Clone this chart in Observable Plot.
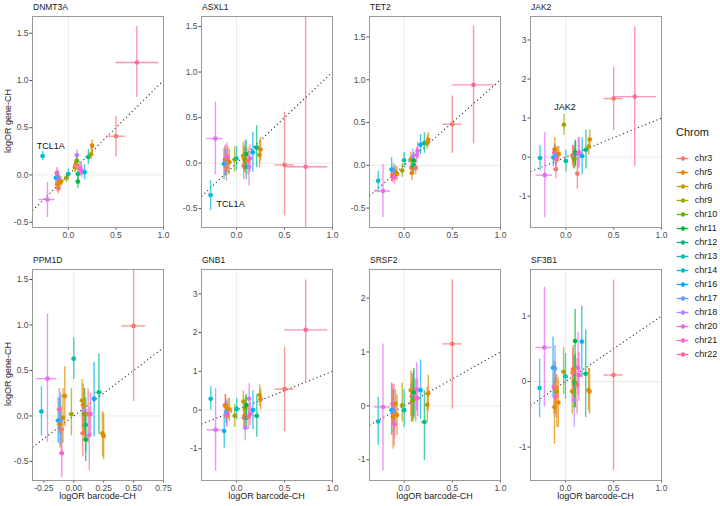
<!DOCTYPE html>
<html><head><meta charset="utf-8">
<script src="https://cdn.jsdelivr.net/npm/d3@7"></script>
<script src="https://cdn.jsdelivr.net/npm/@observablehq/plot@0.6"></script>
<style>
body{margin:0;background:#fff;font-family:"Liberation Sans",Arial,sans-serif}
#root{position:relative;width:720px;height:506px;overflow:hidden}
.ttl{position:absolute;font-size:8.5px;color:#1a1a1a;white-space:nowrap}
.axt{position:absolute;font-size:9px;color:#1a1a1a;white-space:nowrap;text-align:center}
</style>
</head><body><div id="root"></div>
<script>
// ---- data ----
const chroms = ["chr3","chr5","chr6","chr9","chr10","chr11","chr12","chr13","chr14","chr16","chr17","chr18","chr20","chr21","chr22"];
const chromColors = ["#F8766D","#E58700","#C99800","#A3A500","#6BB100","#00BA38","#00BF7D","#00C0AF","#00BCD8","#00B0F6","#619CFF","#B983FF","#E76BF3","#FD61D1","#FF67A4"];
// barcode-CH (x) estimates, shared by all genes
const barcodeChrom = ["chr14","chr20","chr16","chr22","chr5","chr3","chr21","chr6","chr5","chr9","chr13","chr6","chr5","chr3","chr18","chr10","chr11","chr12","chr3","chr20","chr21","chr16","chr12","chr6","chr5","chr3","chr22","chr17"];
const barcodeX   = [-0.27,-0.22,-0.13,-0.12,-0.115,-0.105,-0.10,-0.09,-0.075,-0.02,0.00,0.07,0.08,0.075,0.09,0.09,0.10,0.10,0.12,0.13,0.14,0.17,0.21,0.24,0.25,0.50,0.72,-0.11];
const barcodeXlo = [-0.29,-0.31,-0.15,-0.14,-0.14,-0.13,-0.12,-0.11,-0.10,-0.04,-0.02,0.05,0.06,0.055,0.07,0.07,0.08,0.08,0.10,0.11,0.12,0.15,0.18,0.22,0.23,0.40,0.50,-0.13];
const barcodeXhi = [-0.25,-0.14,-0.11,-0.10,-0.09,-0.08,-0.08,-0.07,-0.05,0.00,0.02,0.09,0.10,0.095,0.11,0.11,0.12,0.12,0.14,0.15,0.16,0.20,0.24,0.26,0.27,0.60,0.95,-0.09];
const genes = ["DNMT3A","ASXL1","TET2","JAK2","PPM1D","GNB1","SRSF2","SF3B1"];
// gene-CH (y) per barcode: [logOR, lower, upper]
const DNMT3A = [[0.20,0.15,0.25],[-0.26,-0.45,-0.08],[-0.03,-0.10,0.04],[0.02,-0.04,0.08],[-0.10,-0.18,-0.03],[-0.14,-0.20,-0.07],[-0.05,-0.11,0.01],[-0.08,-0.14,-0.02],[-0.07,-0.12,-0.02],[-0.03,-0.08,0.02],[0.01,-0.04,0.06],[0.08,0.02,0.14],[0.12,0.06,0.18],[0.10,0.04,0.16],[0.21,0.15,0.27],[0.15,0.09,0.21],[-0.07,-0.14,0.00],[0.01,-0.05,0.07],[0.07,0.00,0.14],[0.06,-0.01,0.13],[0.04,-0.03,0.11],[0.03,-0.05,0.11],[0.19,0.11,0.27],[0.22,0.16,0.28],[0.31,0.25,0.37],[0.41,0.19,0.62],[1.19,0.82,1.57],[-0.02,-0.09,0.05]];
const ASXL1 = [[-0.35,-0.52,-0.19],[0.27,-0.13,0.67],[-0.01,-0.18,0.16],[0.04,-0.12,0.20],[0.02,-0.14,0.18],[-0.05,-0.20,0.10],[0.07,-0.08,0.22],[0.03,-0.12,0.18],[0.01,-0.13,0.15],[0.04,-0.10,0.18],[0.05,-0.08,0.18],[0.08,-0.07,0.23],[0.05,-0.09,0.19],[-0.03,-0.18,0.12],[0.10,-0.05,0.25],[0.03,-0.11,0.17],[0.10,-0.05,0.25],[-0.04,-0.18,0.10],[0.02,-0.13,0.17],[-0.04,-0.25,0.10],[0.05,-0.10,0.20],[0.12,-0.10,0.34],[0.17,-0.05,0.41],[0.09,-0.05,0.23],[0.15,0.02,0.28],[-0.02,-0.58,0.56],[-0.04,-1.20,2.50],[0.00,-0.15,0.15]];
const TET2 = [[-0.18,-0.32,-0.07],[-0.30,-0.61,0.01],[-0.05,-0.19,0.09],[-0.12,-0.20,-0.04],[-0.10,-0.18,-0.02],[-0.09,-0.16,-0.02],[-0.14,-0.22,-0.06],[-0.08,-0.16,0.00],[-0.10,-0.18,-0.02],[-0.06,-0.14,0.02],[0.06,-0.03,0.15],[0.07,-0.01,0.15],[-0.09,-0.18,0.00],[-0.03,-0.12,0.06],[0.10,0.01,0.19],[-0.02,-0.10,0.06],[0.06,-0.03,0.15],[0.00,-0.08,0.08],[-0.03,-0.11,0.05],[0.12,0.03,0.21],[0.17,0.07,0.27],[0.24,0.12,0.36],[0.26,0.14,0.38],[0.27,0.19,0.35],[0.30,0.22,0.38],[0.48,0.14,0.81],[0.94,0.25,1.63],[-0.06,-0.14,0.02]];
const JAK2 = [[-0.02,-0.35,0.29],[-0.46,-1.55,0.63],[-0.01,-0.25,0.23],[0.12,-0.10,0.34],[0.20,-0.10,0.50],[-0.31,-0.55,-0.05],[-0.02,-0.25,0.20],[0.06,-0.15,0.27],[0.08,-0.12,0.28],[0.83,0.56,1.10],[-0.10,-0.38,0.18],[0.05,-0.20,0.30],[-0.02,-0.30,0.26],[0.02,-0.25,0.30],[0.08,-0.20,0.36],[-0.05,-0.30,0.20],[0.12,-0.20,0.44],[0.08,-0.25,0.40],[-0.42,-0.82,0.00],[0.10,-0.30,0.50],[0.12,-0.25,0.50],[0.03,-0.45,0.50],[0.19,-0.30,0.68],[0.27,0.05,0.50],[0.45,0.20,0.70],[1.50,0.68,2.30],[1.55,-0.24,3.34],[0.05,-0.20,0.30]];
const PPM1D = [[0.05,-0.22,0.32],[0.41,-0.29,1.12],[-0.05,-0.30,0.20],[0.07,-0.20,0.30],[-0.09,-0.35,0.20],[-0.15,-0.40,0.10],[-0.41,-0.68,-0.18],[-0.02,-0.30,0.30],[0.22,-0.12,0.54],[0.02,-0.22,0.30],[0.63,0.40,0.86],[0.17,-0.15,0.40],[0.12,-0.20,0.35],[-0.19,-0.45,0.10],[0.06,-0.20,0.30],[0.02,-0.25,0.30],[-0.26,-0.50,0.05],[-0.10,-0.40,0.20],[0.02,-0.30,0.30],[-0.21,-0.60,0.10],[0.02,-0.20,0.25],[0.19,-0.23,0.59],[0.26,-0.20,0.68],[-0.19,-0.45,0.05],[-0.22,-0.48,0.03],[0.99,0.16,1.80],null,[-0.05,-0.32,0.25]];
const GNB1 = [[0.29,0.00,0.60],[-0.51,-1.58,0.56],[-0.54,-0.98,-0.11],[0.13,-0.20,0.40],[0.10,-0.20,0.40],[-0.15,-0.45,0.15],[-0.11,-0.40,0.20],[0.02,-0.25,0.30],[0.02,-0.30,0.30],[-0.15,-0.45,0.15],[0.03,-0.25,0.30],[0.22,-0.05,0.50],[-0.15,-0.45,0.10],[-0.20,-0.50,0.10],[-0.46,-0.80,-0.10],[0.05,-0.25,0.35],[0.13,-0.15,0.40],[-0.20,-0.50,0.10],[-0.18,-0.50,0.15],[0.29,-0.10,0.68],[-0.10,-0.40,0.20],[0.00,-0.50,0.50],[-0.15,-0.70,0.40],[0.39,0.10,0.65],[0.28,0.00,0.55],[0.54,-0.56,1.63],[2.07,0.73,3.36],[-0.05,-0.35,0.25]];
const SRSF2 = [[-0.29,-0.73,0.16],[-0.02,-1.21,1.15],[-0.08,-0.55,0.42],[0.04,-0.35,0.40],[-0.20,-0.80,0.30],[-0.12,-0.75,0.40],[-0.34,-0.60,0.00],[0.04,-0.30,0.30],[-0.17,-0.55,0.20],[0.01,-0.30,0.42],[-0.08,-0.40,0.30],[0.29,-0.20,0.65],[0.18,-0.30,0.60],[0.06,-0.30,0.40],[0.20,-0.20,0.60],[0.10,-0.30,0.50],[0.25,-0.20,0.70],[0.15,-0.25,0.65],[0.15,-0.30,0.50],[0.31,-0.10,0.80],[0.14,-0.20,0.50],[0.29,-0.25,0.85],[-0.30,-1.02,0.28],[0.02,-0.30,0.35],[0.23,-0.10,0.57],[1.15,-0.06,2.34],null,[-0.10,-0.50,0.30]];
const SF3B1 = [[-0.10,-0.55,0.34],[0.52,-0.39,1.44],[0.21,-0.25,0.68],[-0.08,-0.50,0.30],[-0.39,-0.96,0.06],[-0.10,-0.50,0.30],[-0.23,-0.55,0.10],[-0.15,-0.70,0.10],[-0.32,-0.70,0.05],[0.15,-0.20,0.52],[0.08,-0.27,0.43],[-0.15,-0.50,0.20],[0.19,-0.20,0.55],[0.14,-0.25,0.50],[-0.28,-0.70,0.05],[0.00,-0.40,0.40],[0.62,-0.40,1.10],[-0.03,-0.40,0.40],[-0.05,-0.50,0.35],[0.21,-0.20,0.75],[0.10,-0.30,0.45],[0.61,0.06,1.15],[0.12,-0.55,0.79],[-0.13,-0.45,0.20],[-0.15,-0.50,0.20],[0.10,-1.36,1.55],null,[0.20,-0.20,0.55]];
const geneValues = {DNMT3A, ASXL1, TET2, JAK2, PPM1D, GNB1, SRSF2, SF3B1};
// labelled points: gene, barcode index, text
const labelGenes = ["DNMT3A","ASXL1","JAK2"];
const labelIndex = [0, 0, 9];
const labelText = ["TCL1A","TCL1A","JAK2"];
// tick labels
const ticksHalf = [-0.5,0,0.5,1,1.5];
const ticksInt3 = [-1,0,1,2,3];
const ticksInt2 = [-1,0,1,2];
const ticksInt1 = [-1,0,1];
const xTicksMain = [0,0.5,1];
const xTicksPPM1D = [-0.25,0,0.25,0.5,0.75];
const xTitle = "logOR barcode-CH";
const yTitle = "logOR gene-CH";
const legendTitle = "Chrom";

// ---- layout ----
const panelCfg = {
  DNMT3A:{x:[-0.377,1.0], y:[-0.556,1.677], xt:xTicksMain, yt:ticksHalf, xd:1, yd:1},
  ASXL1:{x:[-0.365,1.0], y:[-0.707,1.61], xt:xTicksMain, yt:ticksHalf, xd:1, yd:1},
  TET2:{x:[-0.36,1.0], y:[-0.727,1.74], xt:xTicksMain, yt:ticksHalf, xd:1, yd:1},
  JAK2:{x:[-0.37,1.0], y:[-1.80,3.60], xt:xTicksMain, yt:ticksInt3, xd:1, yd:0},
  PPM1D:{x:[-0.345,0.75], y:[-0.71,1.61], xt:xTicksPPM1D, yt:ticksHalf, xd:2, yd:1},
  GNB1:{x:[-0.367,1.0], y:[-1.82,3.63], xt:xTicksMain, yt:ticksInt3, xd:1, yd:0},
  SRSF2:{x:[-0.36,1.0], y:[-1.385,2.53], xt:xTicksMain, yt:ticksInt2, xd:1, yd:0},
  SF3B1:{x:[-0.365,1.0], y:[-1.51,1.71], xt:xTicksMain, yt:ticksInt1, xd:1, yd:0}
};
const labelStyle = {
  DNMT3A:{dx:-6, dy:-10, anchor:"start"},
  ASXL1:{dx:6, dy:9, anchor:"start"},
  JAK2:{dx:1, dy:-18, anchor:"middle"}
};
const panelLefts = [32, 201, 369, 530];
const rowTops = [16, 269];
const PW = 131, PH = 211, ML = 32, MR = 10, MT = 4, MB = 16;
const root = document.getElementById("root");
const fmt = k => d => d.toFixed(k);

genes.forEach((g, i) => {
  const row = Math.floor(i / 4), col = i % 4;
  const cfg = panelCfg[g];
  const rows = geneValues[g].map((v, j) => v ? ({
    x: barcodeX[j], xlo: barcodeXlo[j], xhi: barcodeXhi[j],
    y: v[0], lo: v[1], hi: v[2], chrom: barcodeChrom[j]
  }) : null).filter(Boolean);
  const labs = [];
  labelGenes.forEach((lg, k) => { if (lg === g) { const v = geneValues[g][labelIndex[k]]; labs.push({x: barcodeX[labelIndex[k]], y: v[0], t: labelText[k]}); } });
  const ls = labelStyle[g] || {dx:0, dy:0, anchor:"middle"};
  const chart = Plot.plot({
    width: ML + PW + MR, height: MT + PH + MB,
    marginLeft: ML, marginRight: MR, marginTop: MT, marginBottom: MB,
    x: {domain: cfg.x},
    y: {domain: cfg.y},
    color: {domain: chroms, range: chromColors},
    style: {fontSize: "8.5px", fontFamily: "Liberation Sans, Arial, sans-serif", color: "#4d4d4d", background: "transparent", overflow: "visible"},
    marks: [
      Plot.ruleX([0], {stroke: "#ebebeb", strokeWidth: 1}),
      Plot.ruleY([0], {stroke: "#ebebeb", strokeWidth: 1}),
      Plot.link([cfg.x], {x1: d => d[0], y1: d => d[0], x2: d => d[1], y2: d => d[1], stroke: "#222", strokeWidth: 1.1, strokeDasharray: "1.1,2.9", clip: true}),
      Plot.ruleX(rows, {x: "x", y1: "lo", y2: "hi", stroke: "chrom", strokeWidth: 1.4, strokeOpacity: 0.72, clip: true}),
      Plot.ruleY(rows, {y: "y", x1: "xlo", x2: "xhi", stroke: "chrom", strokeWidth: 1.4, strokeOpacity: 0.72, clip: true}),
      Plot.dot(rows, {x: "x", y: "y", fill: "chrom", r: 2.3, clip: true}),
      Plot.text(labs, {x: "x", y: "y", text: "t", dx: ls.dx, dy: ls.dy, textAnchor: ls.anchor, fill: "#111", fontSize: 9}),
      Plot.axisX({ticks: cfg.xt, tickFormat: fmt(cfg.xd), tickSize: 2.5, tickPadding: 1.5, label: null}),
      Plot.axisY({ticks: cfg.yt, tickFormat: fmt(cfg.yd), tickSize: 2.5, tickPadding: 1.5, label: null}),
      Plot.frame({stroke: "#9a9a9a", strokeWidth: 1})
    ]
  });
  chart.style.position = "absolute";
  chart.style.left = (panelLefts[col] - ML) + "px";
  chart.style.top = (rowTops[row] - MT) + "px";
  root.append(chart);
  const t = document.createElement("div");
  t.className = "ttl"; t.textContent = g;
  t.style.left = (panelLefts[col] + 1) + "px";
  t.style.top = (rowTops[row] - 14) + "px";
  root.append(t);
  if (row === 1) {
    const xt = document.createElement("div");
    xt.className = "axt"; xt.textContent = xTitle;
    xt.style.width = "160px";
    xt.style.left = (panelLefts[col] + PW / 2 - 80) + "px";
    xt.style.top = "491px";
    root.append(xt);
  }
  if (col === 0) {
    const yt = document.createElement("div");
    yt.className = "axt"; yt.textContent = yTitle;
    yt.style.width = "160px";
    yt.style.left = (8 - 80) + "px";
    yt.style.top = (rowTops[row] + PH / 2 - 6) + "px";
    yt.style.transform = "rotate(-90deg)";
    root.append(yt);
  }
});

// legend
const lt = document.createElement("div");
lt.style.cssText = "position:absolute;left:676px;top:126px;font-size:11px;color:#1a1a1a";
lt.textContent = legendTitle;
root.append(lt);
const legend = Plot.plot({
  width: 50, height: 232, marginTop: 11, marginBottom: 12, marginLeft: 6.7, marginRight: 31.7,
  x: {domain: [0, 1], axis: null},
  y: {type: "point", domain: chroms, padding: 0, axis: null},
  color: {domain: chroms, range: chromColors},
  style: {fontFamily: "Liberation Sans, Arial, sans-serif", background: "transparent", overflow: "visible"},
  marks: [
    Plot.ruleY(chroms, {y: d => d, x1: () => 0, x2: () => 1, stroke: d => d, strokeWidth: 1.3}),
    Plot.dot(chroms, {x: () => 0.5, y: d => d, fill: d => d, r: 2.2}),
    Plot.text(chroms, {x: () => 1, y: d => d, text: d => d, dx: 6, textAnchor: "start", fill: "#1a1a1a", fontSize: 9})
  ]
});
legend.style.position = "absolute";
legend.style.left = "670px";
legend.style.top = "140px";
root.append(legend);
</script>
</body></html>
